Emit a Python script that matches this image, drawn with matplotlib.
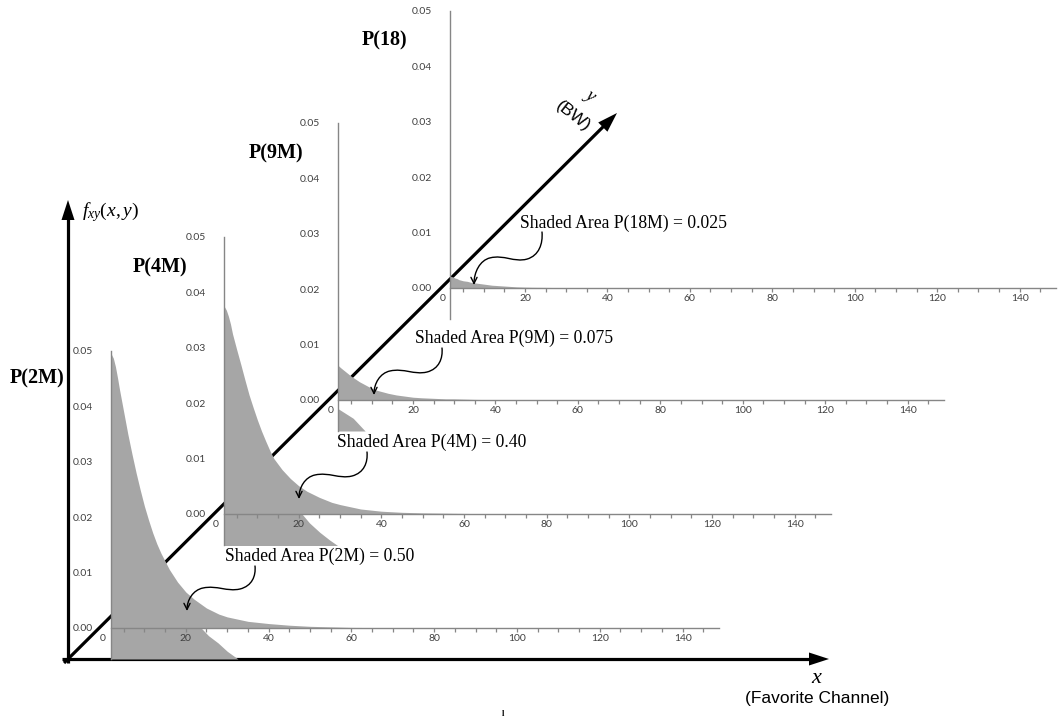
# Joint density slices f_xy(x, y) for four BW settings, drawn as stacked
# Excel-style area panels along a pseudo-3D diagonal axis.

import matplotlib.pyplot as plt
import numpy as np
from matplotlib.path import Path
from matplotlib.patches import FancyArrowPatch, Polygon
from matplotlib.ticker import FixedLocator, FuncFormatter

plt.rcParams['mathtext.fontset'] = 'custom'
plt.rcParams['mathtext.rm'] = 'Liberation Serif'
plt.rcParams['mathtext.it'] = 'Liberation Serif:italic'

W, H = 1062, 719

# favourite channel (x) sample points, shared by all slices
channel = [1.9, 2.5, 3, 3.5, 4, 5, 6, 7, 8, 9, 10, 11, 12, 13, 14, 16, 18, 20, 22, 25,
           28, 30, 35, 40, 45, 50, 60, 70, 80, 148]

# density at each channel, one list per bandwidth slice
dens_2m = [0.0496, 0.0487, 0.0472, 0.0452, 0.0430, 0.0390, 0.0350, 0.0314, 0.0280, 0.0249,
           0.0220, 0.0195, 0.0172, 0.0152, 0.0135, 0.0106, 0.0083, 0.0065, 0.0052, 0.0036,
           0.0025, 0.0020, 0.0012, 0.0008, 0.0005, 0.0003, 0.0001, 0.00005, 0.0, 0.0]
dens_4m = [0.0376, 0.0368, 0.0357, 0.0343, 0.0325, 0.0297, 0.0270, 0.0242, 0.0215, 0.0192,
           0.0170, 0.0150, 0.0132, 0.0115, 0.0100, 0.0080, 0.0064, 0.0051, 0.0041, 0.0030,
           0.0021, 0.0017, 0.0009, 0.0005, 0.0003, 0.0002, 0.0001, 0.0, 0.0, 0.0]
dens_9m = [0.0062, 0.0058, 0.0055, 0.0052, 0.0049, 0.0043, 0.0038, 0.0033, 0.0029, 0.0025,
           0.0021, 0.0018, 0.0016, 0.0014, 0.0012, 0.0009, 0.0007, 0.0005, 0.0004, 0.0003,
           0.0002, 0.0002, 0.0001, 0.00005, 0.0, 0.0, 0.0, 0.0, 0.0, 0.0]
dens_18m = [0.0021, 0.0020, 0.0018, 0.0017, 0.0015, 0.0013, 0.0012, 0.0010, 0.0009, 0.0008,
            0.0007, 0.0006, 0.0005, 0.00045, 0.0004, 0.0003, 0.0002, 0.00015, 0.00012, 0.0001,
            0.00007, 0.00005, 0.0, 0.0, 0.0, 0.0, 0.0, 0.0, 0.0, 0.0]

# spill of the area below each panel's zero line (levels, right edge)
spill_2m_lvl = [0.0, -0.0014, -0.0027, -0.0042, -0.0056]
spill_2m_edge = [23.7, 25.5, 27.8, 30.0, 32.6]
spill_4m_lvl = [0.0, -0.0016, -0.0033, -0.0047, -0.0060]
spill_4m_edge = [20.8, 22.6, 25.1, 27.5, 30.0]
spill_9m_lvl = [-0.0016, -0.0033, -0.0056]
spill_9m_edge = [1.9, 5.5, 8.4]

slice_names = ['P(2M)', 'P(4M)', 'P(9M)', 'P(18)']
shaded_text = ['Shaded Area P(2M) = 0.50', 'Shaded Area P(4M) = 0.40',
               'Shaded Area P(9M) = 0.075', 'Shaded Area P(18M) = 0.025']

y_ticks = [0.0, 0.01, 0.02, 0.03, 0.04, 0.05]
x_ticks = [0, 20, 40, 60, 80, 100, 120, 140]

FILL = '#a6a6a6'
AXG = '#868686'
TXT = '#404040'

fig = plt.figure(figsize=(W / 100, H / 100), dpi=100)


def px_axes(left, top, right, bottom, z):
    a = fig.add_axes([left / W, 1 - bottom / H, (right - left) / W, (bottom - top) / H])
    a.set_zorder(z)
    return a


bg = px_axes(0, 0, W, H, 0)
bg.set_xlim(0, W)
bg.set_ylim(H, 0)
bg.axis('off')


def arrow(a, x0, y0, x1, y1, lw=2.3, hl=20, hw=13):
    d = np.array([x1 - x0, y1 - y0], float)
    d /= np.hypot(*d)
    n = np.array([-d[1], d[0]])
    base = np.array([x1, y1]) - d * hl
    a.plot([x0, base[0] + d[0] * 2], [y0, base[1] + d[1] * 2], color='black', lw=lw,
           solid_capstyle='butt')
    tri = [[x1, y1], base + n * hw / 2, base - n * hw / 2]
    a.add_patch(Polygon(tri, closed=True, color='black', lw=0))


# the three big axes
arrow(bg, 62, 659, 829, 659)
arrow(bg, 68, 663, 68, 200)
arrow(bg, 64, 663, 617, 113)

# panel boxes in pixels: left (x=0), top (0.05), right, bottom
boxes = [(103, 351, 719, 659), (216, 237, 831, 545), (330.5, 123, 944, 431), (442.5, 11, 1056, 319)]
dens = [dens_2m, dens_4m, dens_9m, dens_18m]
spills = [(spill_2m_lvl, spill_2m_edge), (spill_4m_lvl, spill_4m_edge),
          (spill_9m_lvl, spill_9m_edge), None]

for i, (box, d, sp) in enumerate(zip(boxes, dens, spills)):
    ax = px_axes(*box, z=1 + i)
    ax.patch.set_alpha(0)
    ax.set_xlim(0, 148.8)
    ax.set_ylim(-0.0056, 0.05)
    ax.fill_between(channel, 0, d, color=FILL, lw=0)
    if sp is not None:
        ax.fill_betweenx(sp[0], channel[0], sp[1], color=FILL, lw=0)
    for s in ['top', 'right']:
        ax.spines[s].set_visible(False)
    ax.spines['left'].set_position(('data', 1.9))
    ax.spines['bottom'].set_position(('data', 0))
    ax.spines['bottom'].set_bounds(1.9, 148.8)
    for s in ['left', 'bottom']:
        ax.spines[s].set_color(AXG)
        ax.spines[s].set_linewidth(1.0)
    ax.set_yticks(y_ticks)
    ax.yaxis.set_major_formatter(FuncFormatter(lambda v, p: '%.2f' % v))
    ax.tick_params(axis='y', length=0, pad=13, labelsize=7.5, labelcolor=TXT)
    ax.set_xticks(x_ticks)
    ax.xaxis.set_minor_locator(FixedLocator(list(range(5, 150, 5))))
    ax.xaxis.remove_overlapping_locs = False
    ax.tick_params(axis='x', which='major', length=0, pad=4.5, labelsize=7.5, labelcolor=TXT)
    ax.tick_params(axis='x', which='minor', length=3, width=0.9, color=AXG, direction='out')
    for lab in ax.get_xticklabels() + ax.get_yticklabels():
        lab.set_family('Lato')

ov = px_axes(0, 0, W, H, 10)
ov.set_xlim(0, W)
ov.set_ylim(H, 0)
ov.axis('off')
ov.patch.set_alpha(0)

serif = 'Liberation Serif'
name_pos = [(37, 378), (160, 267), (276, 153), (385, 40)]
for (x, y), s in zip(name_pos, slice_names):
    ov.text(x, y, s, ha='center', va='center', family=serif, fontweight='bold', fontsize=14.5)

text_pos = [(225, 556), (337, 442), (415, 338), (520, 223)]
arrow_start = [(255, 566), (367, 452), (442, 348), (542, 232)]
arrow_drop = [45, 47, 47, 53]
for (tx, ty), s, (sx, sy), dy in zip(text_pos, shaded_text, arrow_start, arrow_drop):
    ov.text(tx, ty, s, ha='left', va='center', family=serif, fontsize=12.7)
    k = dy / 45.0
    rel = [(0, 0), (1, 10), (-3, 20), (-15, 23), (-28, 26), (-38, 19), (-52, 22),
           (-62, 24), (-68, 34), (-68, 45)]
    verts = [(sx + rx, sy + ry * k) for rx, ry in rel]
    codes = [Path.MOVETO] + [Path.CURVE4] * 9
    ov.add_patch(FancyArrowPatch(path=Path(verts, codes), arrowstyle='->',
                                 mutation_scale=11, lw=1.0, color='black'))

ov.text(82, 212, r'$f_{xy}(x,y)$', ha='left', va='center', fontsize=14)
ov.text(817, 677, r'$x$', ha='center', va='center', fontsize=16)
ov.text(817, 698, '(Favorite Channel)', ha='center', va='center',
        family='Liberation Sans', fontsize=12.5)
ov.text(573, 116, '(BW)', ha='center', va='center', rotation=-38,
        family='Liberation Sans', fontsize=12.5)
ov.text(589, 97, r'$y$', ha='center', va='center', rotation=-38, fontsize=13)
ov.text(503, 718, 'l', ha='center', va='bottom', family=serif, fontweight='bold', fontsize=6)

fig.savefig('out.png', dpi=100)
